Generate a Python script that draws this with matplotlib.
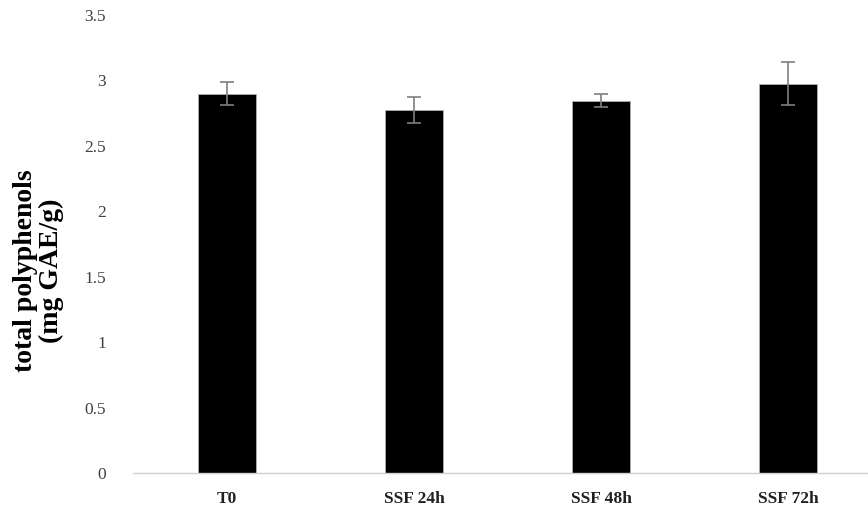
import matplotlib
matplotlib.use("Agg")
import matplotlib.pyplot as plt

# données
categories = ["T0", "SSF 24h", "SSF 48h", "SSF 72h"]
valeurs = [2.90, 2.775, 2.845, 2.975]
erreurs = [0.085, 0.10, 0.048, 0.163]
yticks = [0, 0.5, 1, 1.5, 2, 2.5, 3, 3.5]

plt.rcParams['font.family'] = ['Liberation Serif', 'DejaVu Serif']

fig = plt.figure(figsize=(8.68, 5.14), dpi=100)
ax = fig.add_axes([0.1538, 0.0798, 0.8618, 0.891])

x = range(len(categories))
ax.bar(x, valeurs, width=0.315, color='black', edgecolor='#b0b0b0', linewidth=0.6,
       yerr=erreurs, error_kw=dict(ecolor='#7f7f7f', elinewidth=1.2, capsize=5, capthick=1.2))

ax.set_xlim(-0.5, 3.5)
ax.set_ylim(0, 3.5)
ax.set_yticks(yticks)
ax.set_yticklabels([f"{t:g}" for t in yticks], fontsize=12.5, color='#404040')
ax.set_xticks(list(x))
ax.set_xticklabels(categories, fontsize=12.5, fontweight='bold', color='#202020')
ax.tick_params(axis='both', length=0)
ax.tick_params(axis='y', pad=20)
ax.tick_params(axis='x', pad=13)

for s in ['top', 'right', 'left']:
    ax.spines[s].set_visible(False)
ax.spines['bottom'].set_color('#d0d0d0')
ax.spines['bottom'].set_linewidth(1)

fig.text(0.044, 0.473, "total polyphenols\n(mg GAE/g)", rotation=90, ha='center', va='center',
         fontsize=20, fontweight='bold', linespacing=1.05)

fig.savefig("out.png", dpi=100)
